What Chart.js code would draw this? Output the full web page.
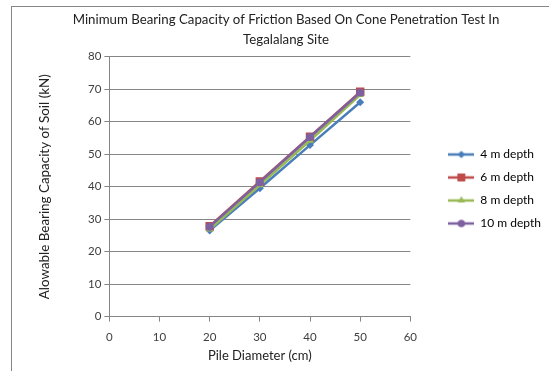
<!DOCTYPE html>
<html>
<head>
<meta charset="utf-8">
<script src="https://cdn.jsdelivr.net/npm/chart.js@4"></script>
<style>
  html, body { margin: 0; padding: 0; background: #fff; overflow: hidden; width: 549px; height: 371px; }
  #frame { position: absolute; left: 11px; top: 6px; width: 570px; height: 380px;
           border-left: 1px solid #868686; border-top: 1px solid #868686; }
  #c { position: absolute; left: 0; top: 0; }
</style>
</head>
<body>
<div id="frame"><canvas id="c" width="570" height="365"></canvas></div>
<script>
// values
const diameters = [20, 30, 40, 50];
const depth4 = [26.5, 39.5, 52.8, 66.0];
const depth6 = [27.8, 41.6, 55.4, 69.2];
const depth8 = [26.9, 40.5, 54.2, 68.3];
const depth10 = [27.7, 41.4, 55.3, 69.0];
const seriesNames = ['4 m depth', '6 m depth', '8 m depth', '10 m depth'];
const xTicks = [0, 10, 20, 30, 40, 50, 60];
const yTicks = [0, 10, 20, 30, 40, 50, 60, 70, 80];

const colors = ['#4a7ebb', '#be4b48', '#98b954', '#7d60a0'];
const markers = ['rectRot', 'rect', 'triangle', 'circle'];
const markerSize = [4, 6, 4.5, 4];
const FONT = 'Lato, "Noto Sans", sans-serif';
const GRID = '#868686';

function toPoints(values) {
  return values.map((v, i) => ({ x: diameters[i], y: v }));
}

// legend swatch: line with marker in the middle, like Excel
function legendSwatch(color, style, r) {
  const cv = document.createElement('canvas');
  cv.width = 26; cv.height = 12;
  const g = cv.getContext('2d');
  g.strokeStyle = color;
  g.lineWidth = 2.5;
  g.beginPath(); g.moveTo(0, 6); g.lineTo(26, 6); g.stroke();
  g.fillStyle = color;
  Chart.helpers.drawPoint(g, { pointStyle: style, radius: r * 0.9, borderWidth: 0 }, 13, 6);
  g.fill();
  return cv;
}

const allSeries = [depth4, depth6, depth8, depth10];

const datasets = allSeries.map((vals, i) => ({
  label: seriesNames[i],
  data: toPoints(vals),
  borderColor: colors[i],
  backgroundColor: colors[i],
  pointBackgroundColor: colors[i],
  pointBorderColor: colors[i],
  pointStyle: markers[i],
  pointRadius: markerSize[i],
  pointBorderWidth: 0,
  borderWidth: 2.5,
  order: allSeries.length - i   // later series drawn on top
}));

new Chart(document.getElementById('c'), {
  type: 'line',
  data: { datasets },
  options: {
    responsive: false,
    animation: false,
    layout: { padding: { left: 9, right: 31, top: 3, bottom: 4 } },
    plugins: {
      title: {
        display: true,
        text: ['Minimum Bearing Capacity of Friction Based On Cone Penetration Test In', 'Tegalalang Site'],
        color: '#222',
        font: { family: FONT, size: 13.25, weight: 'normal', lineHeight: 1.5 },
        padding: { top: 0, bottom: 7 }
      },
      legend: {
        position: 'right',
        maxWidth: 140,
        labels: {
          color: '#222',
          font: { family: FONT, size: 12 },
          usePointStyle: true,
          pointStyleWidth: 26,
          padding: 11,
          generateLabels: (chart) => chart.data.datasets.map((ds, i) => ({
            text: ds.label,
            pointStyle: legendSwatch(ds.borderColor, ds.pointStyle, ds.pointRadius),
            fillStyle: ds.borderColor,
            strokeStyle: ds.borderColor,
            lineWidth: 0,
            datasetIndex: i,
            hidden: false
          }))
        }
      },
      tooltip: { enabled: false }
    },
    scales: {
      x: {
        type: 'linear',
        min: 0, max: 60,
        afterBuildTicks: (s) => { s.ticks = xTicks.map(v => ({ value: v })); },
        grid: { drawOnChartArea: false, drawTicks: true, tickLength: 5, color: GRID },
        border: { color: GRID },
        ticks: { color: '#404040', font: { family: FONT, size: 11.5 }, padding: 9, maxRotation: 0 },
        title: { display: true, text: 'Pile Diameter (cm)', color: '#222', font: { family: FONT, size: 13 }, padding: { top: -5, bottom: 4 } }
      },
      y: {
        min: 0, max: 80,
        afterBuildTicks: (s) => { s.ticks = yTicks.map(v => ({ value: v })); },
        grid: { drawTicks: true, tickLength: 5, color: GRID },
        border: { color: GRID },
        ticks: { color: '#404040', font: { family: FONT, size: 11.5 }, padding: 3 },
        title: { display: true, text: 'Alowable Bearing Capacity of Soil (kN)', color: '#222', font: { family: FONT, size: 13.4 }, padding: { top: 16, bottom: 33 } }
      },
      // empty spacer between the plot and the legend
      gap: {
        position: 'right',
        display: true,
        min: 0, max: 1,
        grid: { display: false },
        border: { display: false },
        ticks: { display: false },
        afterFit: (s) => { s.width = 27; }
      }
    }
  }
});
</script>
</body>
</html>
